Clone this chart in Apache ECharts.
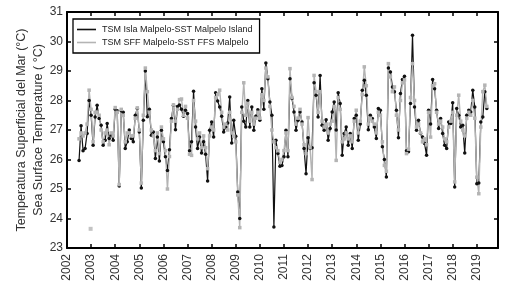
<!DOCTYPE html>
<html>
<head>
<meta charset="utf-8">
<script src="https://cdn.jsdelivr.net/npm/echarts@6/dist/echarts.min.js"></script>
<style>
  html, body { margin: 0; padding: 0; background: #ffffff; }
  #chart { width: 513px; height: 289px; }
</style>
</head>
<body>
<div id="chart"></div>
<script>
// monthly series, first month = July 2002
var startYear = 2002;
var startMonth = 6; // 0 = January

var isla = [
    25.97, 27.14, 26.3, 26.37, 26.88, 28.0, 27.5, 26.48, 27.44, 27.84, 27.39, 27.16,
    26.48, 26.65, 27.22, 26.71, 26.82, 26.65, 27.7, 27.65, 25.1, 27.65, 27.6, 26.37,
    26.6, 27.0, 26.71, 26.6, 27.5, 27.73, 26.93, 25.03,
    27.33, 29.0, 27.45, 27.7, 26.82, 26.93, 26.03, 26.76, 25.95, 26.99, 26.6, 26.09,
    25.63, 26.33, 27.39, 27.84, 27.01, 27.8, 27.85, 27.7, 27.47, 27.67, 27.56, 26.3,
    26.6, 28.31, 27.1, 26.37, 26.76, 26.22, 26.6, 26.18, 25.27, 26.99, 27.27, 26.76,
    28.26, 27.98, 27.78, 27.47, 26.93, 27.1, 27.24, 28.12, 26.56, 27.33, 26.79, 24.9,
    24.0, 27.78, 27.3, 27.1, 28.0, 27.1, 27.78, 26.99, 27.47, 27.69, 27.33, 28.4,
    27.7, 29.27, 28.74, 27.95, 27.5, 23.71, 26.65, 26.2, 25.77, 25.8, 26.09, 26.99,
    26.09, 28.74, 28.07, 27.61, 26.99, 27.33, 27.61, 27.27, 26.37, 25.52, 26.74, 26.37,
    26.4, 28.6, 28.18, 27.44, 28.85, 27.16, 26.99, 27.35, 26.65, 27.05, 27.61, 27.95,
    27.0, 28.26, 27.9, 26.14, 26.88, 27.1, 26.48, 26.88, 26.37, 27.39, 27.5, 26.65,
    27.2, 28.35, 28.69, 28.18, 27.01, 27.5, 27.39, 27.1, 26.71, 27.73, 27.67, 26.43,
    26.0, 25.41, 29.1, 28.97, 28.46, 28.3, 27.67, 26.74, 28.24, 28.71, 28.82, 26.3,
    26.26, 27.9, 30.21, 27.78, 26.99, 27.33, 26.88, 26.76, 26.54, 26.14, 27.67,
    27.2, 28.71, 28.4, 27.67, 27.05, 27.39, 26.88, 26.48, 26.37, 27.27, 27.22, 27.92,
    25.07, 27.73, 27.5, 27.1, 27.16, 26.22, 27.5, 27.67, 27.61, 28.35, 27.78, 25.18,
    25.2, 27.27, 27.44, 28.3, 27.73
];

var sff = [
    26.7, 26.9, 26.8, 26.9, 27.2, 28.35, 27.7, 26.6, 27.6, 27.6, 27.5, 27.0,
    26.6, 26.9, 27.0, 26.5, 26.9, 26.8, 27.76, 27.6, 25.15, 27.7, 27.5, 26.6,
    26.9, 26.9, 26.8, 26.8, 27.4, 27.75, 27.0, 25.2,
    27.5, 29.1, 28.3, 27.6, 27.0, 26.8, 26.3, 26.9, 26.2, 27.1, 26.7, 26.3,
    25.0, 26.1, 27.3, 27.85, 27.3, 27.7, 28.03, 28.05, 27.5, 27.8, 27.4, 26.18,
    26.14, 28.0, 27.3, 26.7, 26.9, 26.4, 26.8, 26.4, 25.69, 26.8, 27.1, 27.0,
    28.1, 28.2, 28.35, 27.6, 27.1, 27.2, 27.0, 27.6, 26.9, 26.79, 26.6, 24.8,
    23.69, 27.6, 28.6, 27.5, 27.9, 27.3, 27.6, 27.2, 27.4, 27.6, 27.4, 28.2,
    28.0, 29.1, 28.8, 27.8, 27.0, 26.6, 26.4, 26.3, 25.9, 26.0, 26.3, 26.9,
    26.3, 29.08, 28.1, 27.8, 27.2, 27.4, 27.7, 27.2, 26.5, 26.2, 27.42, 26.4,
    25.32, 28.85, 28.3, 27.6, 28.3, 27.3, 27.1, 27.2, 26.9, 27.2, 27.3, 27.8,
    25.97, 28.1, 27.7, 26.6, 26.7, 26.9, 26.7, 26.8, 26.6, 27.3, 27.67, 26.9,
    27.3, 28.2, 29.14, 28.5, 27.2, 27.4, 27.3, 27.2, 26.9, 27.6, 27.5, 26.6,
    25.8, 25.6, 29.25, 28.8, 28.3, 28.46, 27.5, 27.0, 28.0, 28.6, 28.7, 26.2,
    26.35, 28.1, 29.25, 28.0, 27.1, 27.2, 26.9, 26.6, 26.7, 26.5, 27.6,
    26.76, 28.5, 28.57, 27.6, 27.2, 27.3, 27.1, 26.7, 26.6, 27.1, 27.3, 27.6,
    25.24, 27.5, 28.18, 27.3, 27.0, 26.8, 27.4, 27.6, 27.5, 28.0, 27.4, 25.4,
    24.84, 27.1, 28.3, 28.52, 27.8
];

// lone SFF reading, not joined to the line
var sffLone = [[2002.98, 23.65]];

var yearTicks = [2002, 2019.88];
var tempRange = [23, 31];

var seriesNames = ['TSM Isla Malpelo-SST Malpelo Island', 'TSM SFF Malpelo-SST FFS Malpelo'];

function toPairs(values) {
    var out = [];
    for (var i = 0; i < values.length; i++) {
        out.push([startYear + (startMonth + i) / 12, values[i]]);
    }
    return out;
}

var font = 'Liberation Sans';

var mychart = echarts.init(document.getElementById('chart'), null, {renderer: 'canvas'});

var option = {
    backgroundColor: '#ffffff',
    animation: false,
    grid: {
        left: 67, right: 15, top: 12, bottom: 41,
        outerBoundsMode: 'none'
    },
    legend: {
        orient: 'vertical',
        left: 73, top: 19,
        data: [
            {name: seriesNames[0], icon: 'rect', itemStyle: {color: '#111111'}},
            {name: seriesNames[1], icon: 'rect', itemStyle: {color: '#b4b4b4'}}
        ],
        itemWidth: 19, itemHeight: 1.6, itemGap: 2,
        padding: [5, 7, 5, 4],
        borderColor: '#000000', borderWidth: 1.3,
        backgroundColor: '#ffffff',
        textStyle: {fontFamily: font, fontSize: 9, lineHeight: 11, color: '#1a1a1a', padding: [0, 0, 0, 1]}
    },
    xAxis: [
        {
            type: 'value', min: yearTicks[0], max: yearTicks[1], interval: 1,
            axisLine: {onZero: false, lineStyle: {color: '#000', width: 2}},
            axisTick: {inside: true, length: 4, lineStyle: {color: '#000', width: 1.5}},
            axisLabel: {
                rotate: 90, fontFamily: font, fontSize: 12, color: '#333', margin: 6,
                showMaxLabel: false,
                formatter: function (v) { return Math.round(v) === v ? String(v) : ''; }
            },
            splitLine: {show: false}
        },
        {
            type: 'value', position: 'top', min: yearTicks[0], max: yearTicks[1], interval: 1,
            axisLine: {onZero: false, lineStyle: {color: '#000', width: 2}},
            axisTick: {inside: true, length: 4, lineStyle: {color: '#000', width: 1.5}},
            axisLabel: {show: false},
            splitLine: {show: false}
        }
    ],
    yAxis: [
        {
            type: 'value', min: tempRange[0], max: tempRange[1], interval: 1,
            name: 'Temperatura Superficial del Mar (°C)\nSea Surface Temperature ( °C)',
            nameLocation: 'middle', nameGap: 20, nameRotate: 90,
            nameMoveOverlap: false,
            nameTextStyle: {fontFamily: font, fontSize: 12.5, color: '#333', lineHeight: 17},
            axisLine: {onZero: false, lineStyle: {color: '#000', width: 2}},
            axisTick: {inside: true, length: 4, lineStyle: {color: '#000', width: 1.5}},
            axisLabel: {fontFamily: font, fontSize: 12, color: '#333', margin: 4},
            splitLine: {show: false}
        },
        {
            type: 'value', position: 'right', min: tempRange[0], max: tempRange[1], interval: 1,
            axisLine: {onZero: false, lineStyle: {color: '#000', width: 2}},
            axisTick: {inside: true, length: 4, lineStyle: {color: '#000', width: 1.5}},
            axisLabel: {show: false},
            splitLine: {show: false}
        }
    ],
    series: [
        {
            name: seriesNames[0],
            type: 'line',
            data: toPairs(isla),
            symbol: 'circle', symbolSize: 3.5,
            lineStyle: {color: '#111111', width: 1.2},
            itemStyle: {color: '#111111'}
        },
        {
            name: seriesNames[1],
            type: 'line',
            data: toPairs(sff),
            symbol: 'rect', symbolSize: 3.5,
            lineStyle: {color: '#b4b4b4', width: 1.4},
            itemStyle: {color: '#b4b4b4'}
        },
        {
            name: 'lone',
            type: 'scatter',
            data: sffLone,
            symbol: 'rect', symbolSize: 4,
            itemStyle: {color: '#b4b4b4'}
        }
    ]
};

mychart.setOption(option);
</script>
</body>
</html>
